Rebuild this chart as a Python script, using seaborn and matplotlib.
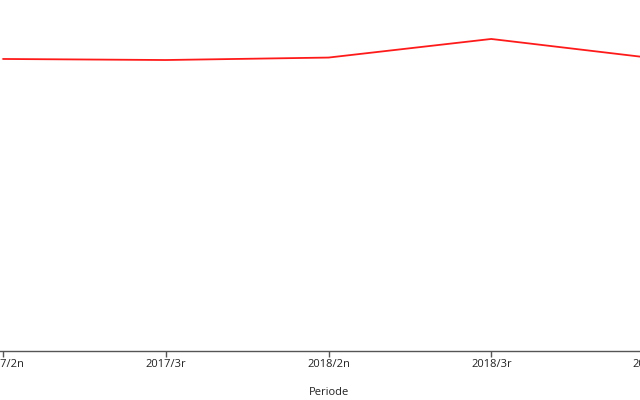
import numpy as np
import pandas as pd
import seaborn as sns
from matplotlib import pyplot as plt

periodes = ['2017/2n', '2017/3r', '2018/2n', '2018/3r', '2019/2n']
valors = [83.2, 82.9, 83.6, 88.9, 83.4]

df = pd.DataFrame({'Periode': periodes, 'Valor': valors})

sns.set_style('white')
plt.rcParams['font.family'] = ['Open Sans', 'DejaVu Sans']

# the axes run past the figure edges, as in the cropped original
fig = plt.figure(figsize=(6.4, 4), dpi=100)
ax = fig.add_axes([-30 / 640, 49 / 400, 710 / 640, 351 / 400])

sns.lineplot(data=df, x='Periode', y='Valor', color='#ff1a1a', linewidth=1.3, ax=ax, sort=False)

ax.set_xlim(-33 / 162.75, 677 / 162.75)
ax.set_ylim(0, 100)

for s in ['top', 'right', 'left']:
    ax.spines[s].set_visible(False)
ax.spines['bottom'].set_color('#555555')
ax.spines['bottom'].set_linewidth(1)

ax.set_yticks([])
ax.set_ylabel('')
ax.tick_params(axis='x', length=4, width=1, color='#555555', labelsize=8,
               labelcolor='#222222', pad=2, bottom=True)
ax.set_xlabel('Periode', fontsize=8, color='#222222')
ax.xaxis.set_label_coords((329 + 30) / 710, -36 / 351)

plt.savefig('out.png', dpi=100)
